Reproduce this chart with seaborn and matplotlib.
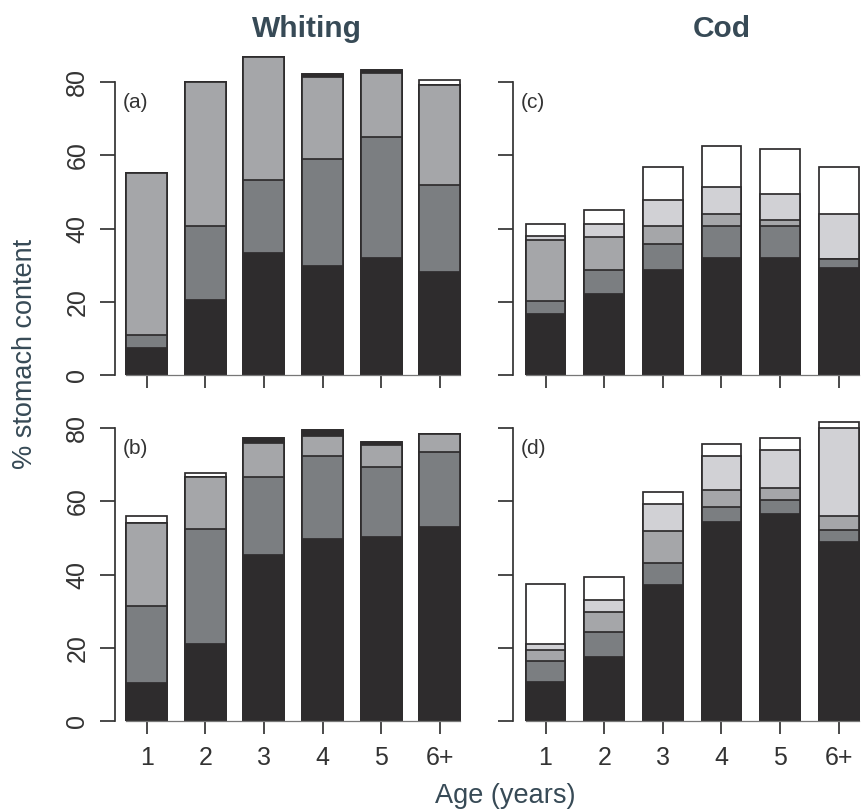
import numpy as np
import pandas as pd
import matplotlib
matplotlib.use("Agg")
import matplotlib.pyplot as plt
import seaborn as sns

sns.set_theme(style="white")
plt.rcParams['font.family'] = ['Liberation Sans', 'DejaVu Sans']

ages = ["1", "2", "3", "4", "5", "6+"]
categories = ["cat1", "cat2", "cat3", "cat4", "cat5"]

# panel (a) Whiting, top
a_cat1 = [7.3, 20.5, 33.3, 29.9, 32.1, 28.2]
a_cat2 = [3.6, 20.3, 20.0, 29.1, 32.9, 23.6]
a_cat3 = [44.2, 39.2, 33.5, 22.4, 17.5, 27.5]
a_cat4 = [0.0, 0.0, 0.0, 0.9, 0.9, 0.0]
a_cat5 = [0.0, 0.0, 0.0, 0.0, 0.0, 1.3]
# panel (b) Whiting, bottom
b_cat1 = [10.3, 21.0, 45.4, 49.7, 50.4, 53.1]
b_cat2 = [21.1, 31.4, 21.4, 22.6, 19.1, 20.3]
b_cat3 = [22.6, 14.4, 9.1, 5.7, 5.8, 5.1]
b_cat4 = [0.0, 0.0, 1.5, 1.4, 0.9, 0.0]
b_cat5 = [1.9, 1.1, 0.0, 0.0, 0.0, 0.0]
# panel (c) Cod, top
c_cat1 = [16.6, 22.1, 28.7, 32.1, 32.1, 29.3]
c_cat2 = [3.7, 6.6, 7.1, 8.6, 8.6, 2.5]
c_cat3 = [16.6, 9.1, 5.0, 3.3, 1.7, 0.0]
c_cat4 = [1.2, 3.5, 7.0, 7.3, 7.1, 12.2]
c_cat5 = [3.2, 3.8, 9.0, 11.4, 12.3, 12.8]
# panel (d) Cod, bottom
d_cat1 = [10.7, 17.4, 37.3, 54.3, 56.7, 49.0]
d_cat2 = [5.8, 7.0, 5.9, 4.3, 3.6, 3.2]
d_cat3 = [3.0, 5.4, 8.7, 4.4, 3.3, 3.8]
d_cat4 = [1.5, 3.4, 7.3, 9.3, 10.6, 24.0]
d_cat5 = [16.5, 6.1, 3.4, 3.3, 3.2, 1.8]

yticks = [0, 20, 40, 60, 80]

cod_colors = ["#2e2c2d", "#7b7e81", "#a5a6a9", "#d1d1d5", "#ffffff"]
whiting_colors = ["#2e2c2d", "#7b7e81", "#a5a6a9", "#2e2c2d", "#ffffff"]
EDGE = "#2e2c2d"
TXT = "#333333"
SLATE = "#374a56"

W, H = 861, 809
fig = plt.figure(figsize=(W / 100, H / 100), dpi=100)

def px_axes(x_spine, y_zero, xmin, xmax, ppu_x, ymax, ppu_y):
    left = x_spine / W
    width = (xmax - xmin) * ppu_x / W
    bottom = (H - y_zero) / H
    height = ymax * ppu_y / H
    return fig.add_axes([left, bottom, width, height])

panels = [
    ("(a)", [a_cat1, a_cat2, a_cat3, a_cat4, a_cat5], whiting_colors, 115.0, 375.0, -0.54, 0.70, True, False),
    ("(b)", [b_cat1, b_cat2, b_cat3, b_cat4, b_cat5], whiting_colors, 115.0, 721.0, -0.54, 0.70, True, True),
    ("(c)", [c_cat1, c_cat2, c_cat3, c_cat4, c_cat5], cod_colors, 512.7, 375.0, -0.56, 0.675, False, False),
    ("(d)", [d_cat1, d_cat2, d_cat3, d_cat4, d_cat5], cod_colors, 512.7, 721.0, -0.56, 0.675, False, True),
]

PPU_X = 58.65
PPU_Y = 3.659
YMAX = 88.0
XMAX = 5.45

for label, series, colors, xs, y0, xmin, bw, ylabels, xlabels in panels:
    ax = px_axes(xs, y0, xmin, XMAX, PPU_X, YMAX, PPU_Y)
    arr = np.array(series)
    cum = np.cumsum(arr, axis=0)
    # overpaint cumulative stacks from top category down
    for k in range(len(categories) - 1, -1, -1):
        df = pd.DataFrame({"age": ages, "value": cum[k]})
        sns.barplot(data=df, x="age", y="value", order=ages, ax=ax,
                    color=colors[k], width=bw, edgecolor=EDGE,
                    linewidth=1.25, saturation=1, errorbar=None)
    for p in ax.patches:
        if p.get_height() <= 0:
            p.set_visible(False)
    ax.set_xlim(xmin, XMAX)
    ax.set_ylim(0, YMAX)
    ax.set_xlabel("")
    ax.set_ylabel("")
    for s in ["top", "right"]:
        ax.spines[s].set_visible(False)
    ax.spines["left"].set_bounds(0, 80)
    ax.spines["left"].set_color(TXT)
    ax.spines["left"].set_linewidth(1.25)
    ax.spines["bottom"].set_bounds(-bw / 2, 5 + bw / 2)
    ax.spines["bottom"].set_color("#777777")
    ax.spines["bottom"].set_linewidth(0.9)
    ax.set_yticks(yticks)
    ax.tick_params(axis="y", direction="out", length=10.5, width=1.25,
                   color=TXT, left=True, pad=8, labelsize=18, labelcolor=TXT)
    ax.tick_params(axis="x", direction="out", length=9, width=1.25,
                   color=TXT, bottom=True, pad=9, labelsize=18, labelcolor=TXT)
    if ylabels:
        ax.set_yticklabels([str(v) for v in yticks], rotation=90, va="center")
    else:
        ax.set_yticklabels([])
    ax.set_xticks(range(len(ages)))
    if xlabels:
        ax.set_xticklabels(ages)
    else:
        ax.set_xticklabels([])
    ax.text(xmin + 8 / PPU_X, 74.6, label, fontsize=15, color=TXT,
            ha="left", va="center")
    ax.patch.set_alpha(0)

fig.text(307 / W, 1 - 37 / H, "Whiting", ha="center", va="baseline",
         fontsize=21.5, fontweight="bold", color=SLATE)
fig.text(722 / W, 1 - 37 / H, "Cod", ha="center", va="baseline",
         fontsize=21.5, fontweight="bold", color=SLATE)
fig.text(25 / W, 1 - 354 / H, "% stomach content", rotation=90,
         ha="center", va="center", fontsize=19.5, color=SLATE)
fig.text(505 / W, 1 - 803 / H, "Age (years)", ha="center", va="baseline",
         fontsize=19.5, color=SLATE)

fig.savefig("out.png", dpi=100, facecolor="white")
